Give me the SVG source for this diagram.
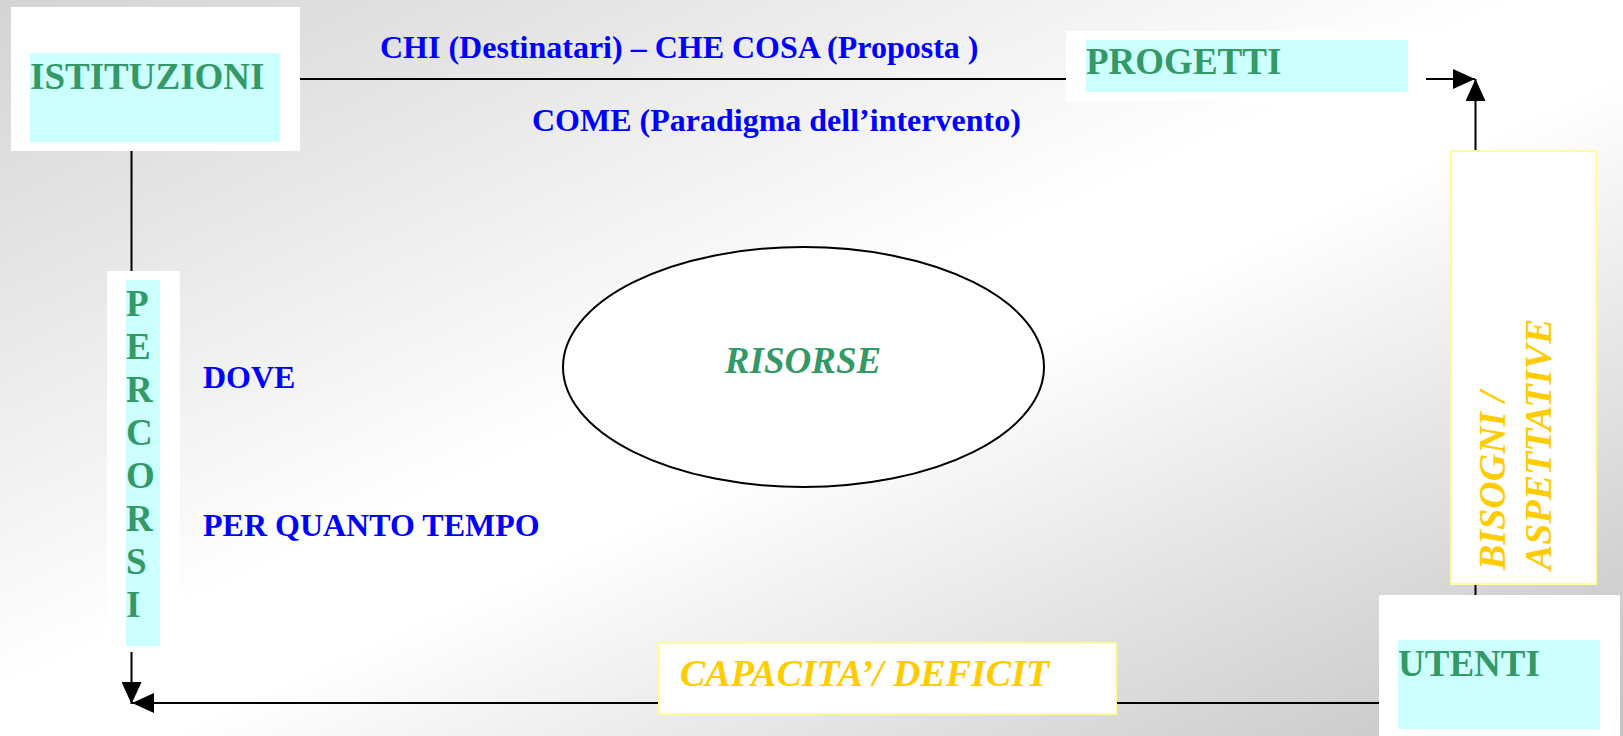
<svg xmlns="http://www.w3.org/2000/svg" width="1623" height="736" viewBox="0 0 1623 736">
  <defs>
    <linearGradient id="bg" x1="0" y1="0" x2="1" y2="1">
      <stop offset="0" stop-color="#d4d4d4"/>
      <stop offset="0.47" stop-color="#ffffff"/>
      <stop offset="0.55" stop-color="#ffffff"/>
      <stop offset="1" stop-color="#c2c2c2"/>
    </linearGradient>
    <marker id="arr" viewBox="0 0 22 20" refX="22" refY="10" markerWidth="22" markerHeight="20" markerUnits="userSpaceOnUse" orient="auto">
      <path d="M0,0 L22,10 L0,20 z" fill="#000"/>
    </marker>
  </defs>
  <style>
    .wbox { fill: #ffffff; }
    .cyan { fill: #ccffff; }
    .ybox { fill: #ffffff; stroke: #ffff99; stroke-width: 2; }
    .conn { stroke: #000; stroke-width: 2; fill: none; }
    .green { font-family: "Liberation Serif", "Times New Roman", serif; font-weight: bold; font-size: 37px; fill: #339966; }
    .blue { font-family: "Liberation Serif", "Times New Roman", serif; font-weight: bold; font-size: 32px; fill: #0000ff; }
    .yellow { font-family: "Liberation Serif", "Times New Roman", serif; font-weight: bold; font-style: italic; font-size: 38px; fill: #ffcc00; }
  </style>
  <rect x="0" y="0" width="1623" height="736" fill="url(#bg)"/>

  <g id="connectors">
    <line class="conn" x1="300" y1="79" x2="1475" y2="79" marker-end="url(#arr)"/>
    <line class="conn" x1="1475.5" y1="600" x2="1475.5" y2="79" marker-end="url(#arr)"/>
    <line class="conn" x1="1385" y1="703" x2="132" y2="703" marker-end="url(#arr)"/>
    <line class="conn" x1="131.5" y1="151" x2="131.5" y2="704" marker-end="url(#arr)"/>
  </g>

  <g id="istituzioni">
    <rect class="wbox" x="11" y="7" width="289" height="144"/>
    <rect class="cyan" x="30" y="53" width="250" height="89"/>
    <text class="green" x="30" y="89">ISTITUZIONI</text>
  </g>

  <g id="progetti">
    <rect class="wbox" x="1066" y="31" width="360" height="71"/>
    <rect class="cyan" x="1086" y="40" width="322" height="52"/>
    <text class="green" x="1086" y="74">PROGETTI</text>
  </g>

  <g id="labels-top">
    <text class="blue" x="380" y="58">CHI (Destinatari) – CHE COSA (Proposta )</text>
    <text class="blue" x="532" y="131">COME (Paradigma dell’intervento)</text>
  </g>

  <g id="percorsi">
    <rect class="wbox" x="107" y="271" width="73" height="381"/>
    <rect class="cyan" x="126" y="280" width="34" height="366"/>
    <text class="green" x="126" y="316">P</text>
    <text class="green" x="126" y="359">E</text>
    <text class="green" x="126" y="402">R</text>
    <text class="green" x="126" y="445">C</text>
    <text class="green" x="126" y="488">O</text>
    <text class="green" x="126" y="531">R</text>
    <text class="green" x="126" y="574">S</text>
    <text class="green" x="126" y="617">I</text>
  </g>

  <g id="labels-left">
    <text class="blue" x="203" y="388">DOVE</text>
    <text class="blue" x="203" y="536">PER QUANTO TEMPO</text>
  </g>

  <g id="risorse">
    <ellipse cx="803.5" cy="367" rx="240.5" ry="120" fill="#ffffff" stroke="#000" stroke-width="2"/>
    <text x="803" y="373" text-anchor="middle" font-family="Liberation Serif, Times New Roman, serif" font-weight="bold" font-style="italic" font-size="37" fill="#339966">RISORSE</text>
  </g>

  <g id="bisogni">
    <rect class="ybox" x="1451" y="151" width="145" height="433"/>
    <text class="yellow" transform="translate(1505,570) rotate(-90)">BISOGNI /</text>
    <text class="yellow" transform="translate(1551,570) rotate(-90)">ASPETTATIVE</text>
  </g>

  <g id="capacita">
    <rect class="ybox" x="659" y="643" width="457" height="71"/>
    <text class="yellow" x="680" y="686">CAPACITA’/ DEFICIT</text>
  </g>

  <g id="utenti">
    <rect class="wbox" x="1379" y="595" width="241" height="141"/>
    <rect class="cyan" x="1398" y="640" width="202" height="89"/>
    <text class="green" x="1398" y="676">UTENTI</text>
  </g>
</svg>
